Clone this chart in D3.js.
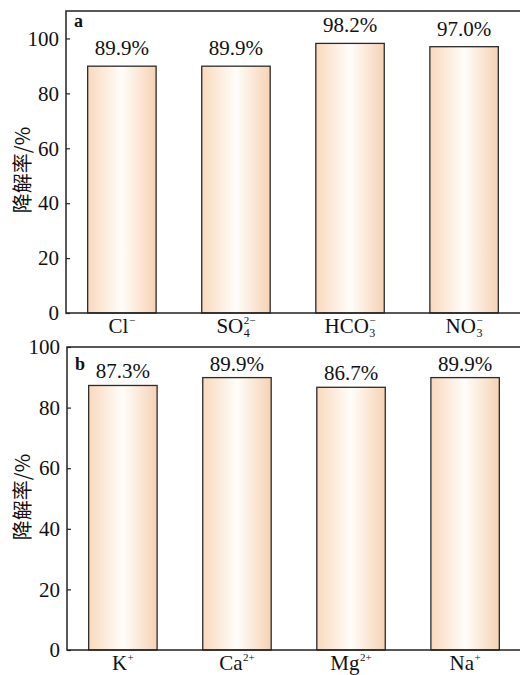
<!DOCTYPE html>
<html>
<head>
<meta charset="utf-8">
<script src="https://cdn.jsdelivr.net/npm/d3@7"></script>
<style>
  html, body { margin: 0; padding: 0; background: #fff; }
  svg { display: block; }
  .serif { font-family: "Liberation Serif", "Times New Roman", serif; }
</style>
</head>
<body>
<svg id="chart" width="520" height="675"></svg>
<script>
// Degradation rate with different anions (a) and cations (b)
const anionLabels = [
  { base: "Cl", sup: "\u2212" },
  { base: "SO", sub: "4", sup: "2\u2212" },
  { base: "HCO", sub: "3", sup: "\u2212" },
  { base: "NO", sub: "3", sup: "\u2212" }
];
const anionValues = [89.9, 89.9, 98.2, 97.0];

const cationLabels = [
  { base: "K", sup: "+" },
  { base: "Ca", sup: "2+" },
  { base: "Mg", sup: "2+" },
  { base: "Na", sup: "+" }
];
const cationValues = [87.3, 89.9, 86.7, 89.9];

const yTicks = [0, 20, 40, 60, 80, 100];
const yTitle = "降解率/%";

const svg = d3.select("#chart");

// gradient shared by every bar: peach edges, pale centre
const defs = svg.append("defs");
const grad = defs.append("linearGradient").attr("id", "barFill")
  .attr("x1", "0%").attr("x2", "100%").attr("y1", "0%").attr("y2", "0%");
grad.append("stop").attr("offset", "0%").attr("stop-color", "#f9d9bd");
grad.append("stop").attr("offset", "50%").attr("stop-color", "#fffdfa");
grad.append("stop").attr("offset", "100%").attr("stop-color", "#f6d2b4");

// scratch text for measuring glyph runs
const measure = svg.append("text").attr("class", "serif").attr("visibility", "hidden");
function textWidth(str, size) {
  measure.style("font-size", size + "px").text(str);
  return measure.node().getComputedTextLength();
}

const SUP = 11, SUB = 12;

function panel(opts) {
  const { left, right, top, bottom, yMax, labels, values, letter, letterY, gap, titleY } = opts;
  const g = svg.append("g");
  const n = labels.length;
  const x = d3.scaleBand().domain(d3.range(n)).range([left, right])
    .paddingInner(0.4).paddingOuter(0.19);
  const y = d3.scaleLinear().domain([0, yMax]).range([bottom, top]);

  // bars
  g.selectAll("rect.bar").data(values).join("rect")
    .attr("class", "bar")
    .attr("x", (d, i) => x(i))
    .attr("y", d => y(d))
    .attr("width", x.bandwidth())
    .attr("height", d => y(0) - y(d))
    .attr("fill", "url(#barFill)")
    .attr("stroke", "#2b2b2b")
    .attr("stroke-width", 1.3);

  // value labels
  g.selectAll("text.val").data(values).join("text")
    .attr("class", "val serif")
    .attr("x", (d, i) => x(i) + x.bandwidth() / 2)
    .attr("y", d => y(d) - gap)
    .attr("text-anchor", "middle")
    .style("font-size", "21px")
    .attr("fill", "#111")
    .text(d => d.toFixed(1) + "%");

  // y axis with inward ticks
  const yAxis = d3.axisLeft(y).tickValues(yTicks).tickSize(-4).tickPadding(10);
  const ya = g.append("g").attr("transform", `translate(${left},0)`).call(yAxis);
  ya.attr("font-family", null).attr("font-size", null);
  ya.select(".domain").remove();
  ya.selectAll(".tick line").attr("stroke", "#222").attr("stroke-width", 1.2);
  ya.selectAll(".tick text").attr("class", "serif").style("font-size", "21px")
    .attr("fill", "#111").attr("x", -7);

  // frame: left, top, bottom
  g.append("path")
    .attr("d", `M${right},${top}H${left}V${bottom}H${right}`)
    .attr("fill", "none").attr("stroke", "#222").attr("stroke-width", 1.5);

  // category labels with stacked chemical sub/superscripts
  labels.forEach((lab, i) => {
    const cx = x(i) + x.bandwidth() / 2;
    const bw = textWidth(lab.base, 21);
    const supW = lab.sup ? textWidth(lab.sup, SUP) : 0;
    const subW = lab.sub ? textWidth(lab.sub, SUB) : 0;
    const total = bw + 0.5 + Math.max(supW, subW);
    const t = g.append("text").attr("class", "serif")
      .attr("x", cx - total / 2).attr("y", bottom + 20)
      .style("font-size", "21px").attr("fill", "#111");
    t.append("tspan").text(lab.base);
    if (lab.sup) {
      t.append("tspan").attr("dx", 0.5).attr("dy", -9)
        .style("font-size", SUP + "px").text(lab.sup);
    }
    if (lab.sub) {
      t.append("tspan").attr("dx", -supW).attr("dy", lab.sup ? 13 : 4)
        .style("font-size", SUB + "px").text(lab.sub);
    }
  });

  // panel letter
  g.append("text").attr("class", "serif").attr("x", left + 8).attr("y", letterY)
    .style("font-size", "18px").attr("font-weight", "bold")
    .attr("fill", "#111").text(letter);

  // y title
  g.append("text")
    .attr("transform", `translate(30,${titleY}) rotate(-90)`)
    .attr("text-anchor", "middle")
    .attr("font-family", "'Noto Sans CJK SC', sans-serif")
    .attr("font-size", 20)
    .attr("fill", "#111")
    .text(yTitle);
}

panel({
  left: 66, right: 520, top: 11, bottom: 313, yMax: 110,
  labels: anionLabels, values: anionValues,
  letter: "a", letterY: 27, gap: 11, titleY: 170
});

panel({
  left: 67, right: 521, top: 347, bottom: 650, yMax: 100,
  labels: cationLabels, values: cationValues,
  letter: "b", letterY: 370, gap: 7, titleY: 497
});

measure.remove();
</script>
</body>
</html>
